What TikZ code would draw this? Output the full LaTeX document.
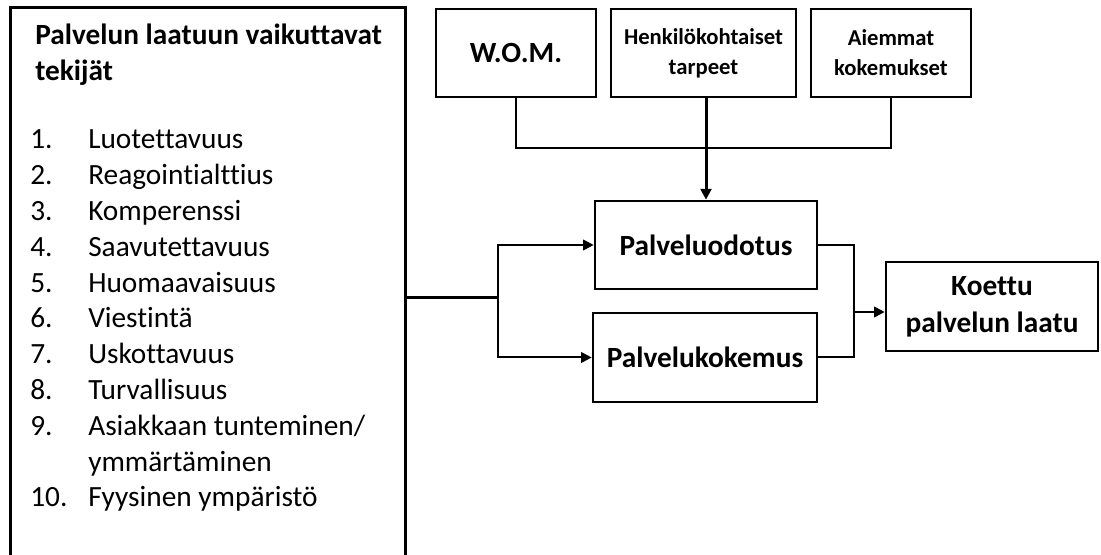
\documentclass[tikz,border=0pt]{standalone}
\usepackage{fontspec}
\setmainfont{Carlito}[Ligatures=NoCommon]
\usetikzlibrary{arrows.meta}
\begin{document}
\begin{tikzpicture}[x=0.75pt,y=-0.75pt,
  box/.style={draw, line width=2pt, rectangle, inner sep=0pt, align=center, font=\bfseries\fontsize{22}{27.5}\selectfont},
  smallbox/.style={box, font=\bfseries\fontsize{17}{22.5}\selectfont},
  conn/.style={line width=1.5pt},
  arr/.style={conn, -{Triangle[length=8pt,width=8pt]}},
  item/.style={anchor=base west, inner sep=0pt, font=\fontsize{22}{27}\selectfont},
  ttl/.style={anchor=base west, inner sep=0pt, font=\bfseries\fontsize{22}{27}\selectfont}]
\useasboundingbox (0,0) rectangle (1101,555);
\clip (0,0) rectangle (1101,555);

% left box (bottom edge lies below the picture)
\node[box, line width=2.25pt, minimum width={395*0.75pt}, minimum height={592*0.75pt}] (factors) at (207.5,304) {};
\node[ttl] (t1) at (35,45) {Palvelun laatuun vaikuttavat};
\node[ttl] (t2) at (35,81) {tekijät};

\node[item] (n1) at (30,149) {1.};   \node[item] (i1) at (88,149) {Luotettavuus};
\node[item] (n2) at (30,184.8) {2.}; \node[item] (i2) at (88,184.8) {Reagointialttius};
\node[item] (n3) at (30,220.6) {3.}; \node[item] (i3) at (88,220.6) {Komperenssi};
\node[item] (n4) at (30,256.4) {4.}; \node[item] (i4) at (88,256.4) {Saavutettavuus};
\node[item] (n5) at (30,292.2) {5.}; \node[item] (i5) at (88,292.2) {Huomaavaisuus};
\node[item] (n6) at (30,328) {6.};   \node[item] (i6) at (88,328) {Viestintä};
\node[item] (n7) at (30,363.8) {7.}; \node[item] (i7) at (88,363.8) {Uskottavuus};
\node[item] (n8) at (30,399.6) {8.}; \node[item] (i8) at (88,399.6) {Turvallisuus};
\node[item] (n9) at (30,435.4) {9.}; \node[item] (i9) at (88,435.4) {Asiakkaan tunteminen/};
\node[item] (i9b) at (88,471.2) {ymmärtäminen};
\node[item] (n10) at (30,507) {10.}; \node[item] (i10) at (88,507) {Fyysinen ympäristö};

% top boxes
\node[box, minimum width={160*0.75pt}, minimum height={88*0.75pt}] (wom) at (516,53) {W.O.M.};
\node[smallbox, minimum width={185*0.75pt}, minimum height={88*0.75pt}] (henk) at (703.5,53) {Henkilökohtaiset\\tarpeet};
\node[smallbox, minimum width={160*0.75pt}, minimum height={88*0.75pt}] (aiem) at (891,53) {Aiemmat\\kokemukset};

% middle and right boxes
\node[box, minimum width={222*0.75pt}, minimum height={88*0.75pt}] (odot) at (706,245) {Palveluodotus};
\node[box, minimum width={224*0.75pt}, minimum height={89*0.75pt}] (kok) at (705,357.5) {Palvelukokemus};
\node[box, minimum width={212*0.75pt}, minimum height={89*0.75pt}] (koe) at (992,306.5) {Koettu\\palvelun laatu};

% connectors
\coordinate (bus) at (0,148);
\draw[conn] (wom.south) -- (wom.south |- bus) -- (aiem.south |- bus) -- (aiem.south);
\draw[arr, line width=2.25pt] (odot.north |- henk.south) -- (odot.north);

\coordinate (split) at (498,298);
\draw[conn, line width=2.25pt] (factors.east |- split) -- (split);
\draw[arr] (split) |- (odot.west);
\draw[arr] (split) |- (kok.west);

\coordinate (merge) at (854,312);
\draw[conn] (odot.east) -| (merge);
\draw[conn] (kok.east) -| (merge);
\draw[arr] (merge) -- (merge -| koe.west);
\end{tikzpicture}
\end{document}
